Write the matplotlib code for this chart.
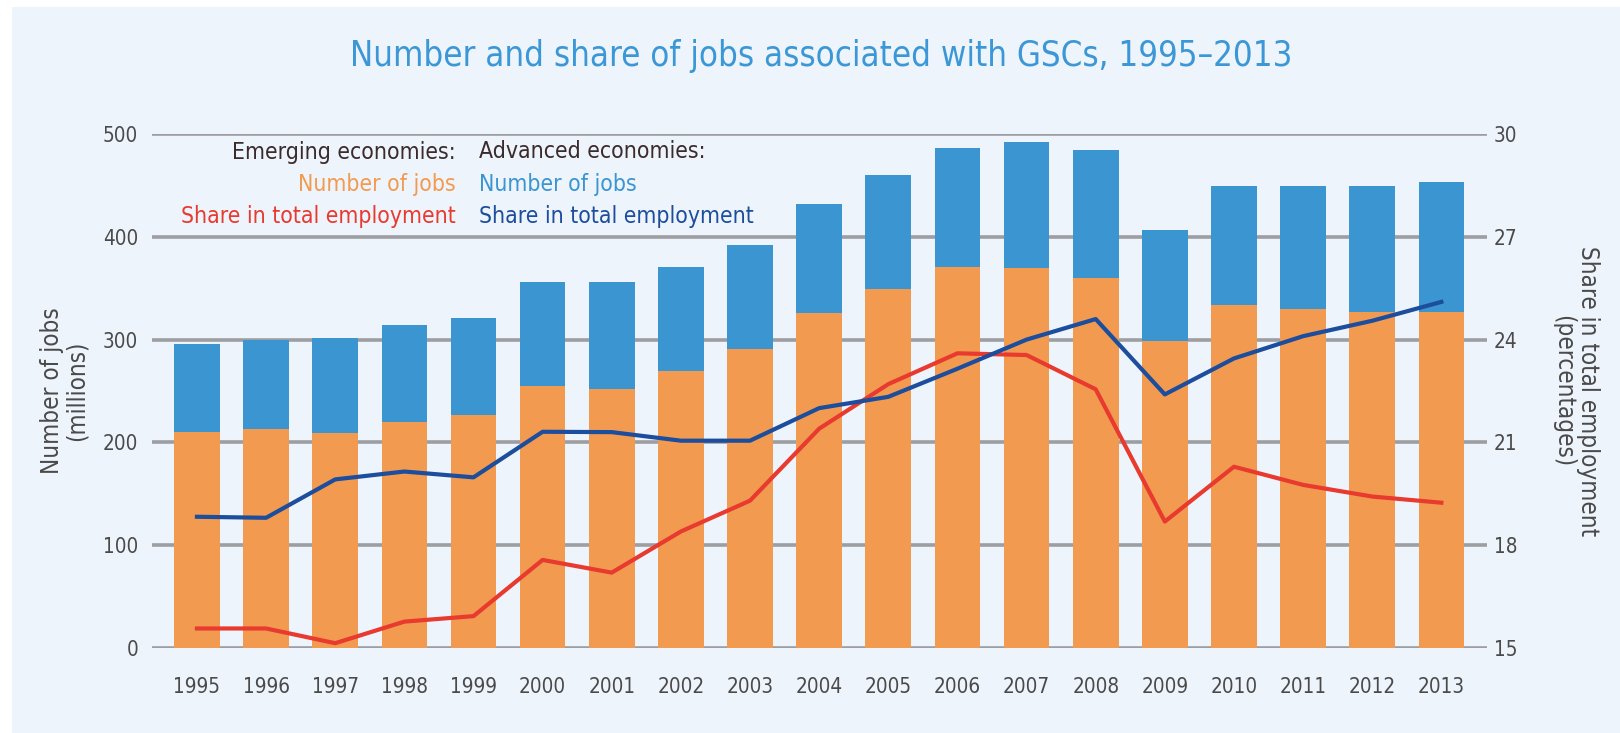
import numpy as np
import matplotlib
matplotlib.use('Agg')
import matplotlib.pyplot as plt
from matplotlib import font_manager as fm
from matplotlib.patches import Rectangle

years = [str(y) for y in range(1995, 2014)]

# number of jobs (millions)
emerging_jobs = [210, 213, 209, 220, 227, 255, 252, 269, 291, 326, 349, 371, 370, 360,
                 299, 334, 330, 327, 327]
total_jobs = [296, 300, 302, 314, 321, 356, 356, 371, 392, 432, 460, 486, 492, 484,
              407, 449, 449, 449, 453]
advanced_jobs = [t - e for t, e in zip(total_jobs, emerging_jobs)]

# share in total employment (%)
emerging_share = [15.57, 15.57, 15.14, 15.77, 15.93, 17.57, 17.2, 18.4, 19.3, 21.4,
                  22.7, 23.6, 23.55, 22.55, 18.69, 20.29, 19.76, 19.42, 19.24]
advanced_share = [18.83, 18.8, 19.92, 20.15, 19.98, 21.31, 21.3, 21.05, 21.05, 22.0,
                  22.33, 23.15, 24.0, 24.6, 22.4, 23.45, 24.1, 24.55, 25.1]

left_ticks = [0, 100, 200, 300, 400, 500]
right_ticks = [15, 18, 21, 24, 27, 30]

c_orange = '#f29b50'
c_blue = '#3a95d1'
c_red = '#e83a2f'
c_navy = '#1d4d9d'
c_grid = '#9d9ea2'
c_text = '#4a4a4a'
c_bg = '#eef4fc'

# look for a narrow / condensed face, otherwise DejaVu Sans
narrow = None
for f in fm.fontManager.ttflist:
    cond = (str(f.stretch) in ('condensed', 'semi-condensed', 'extra-condensed',
                                'ultra-condensed')
            or 'Narrow' in f.name or 'Condensed' in f.name)
    if cond and f.style == 'normal' and f.weight in (400, 'normal', 'regular'):
        narrow = f
        break
if narrow is not None:
    fp = fm.FontProperties(fname=narrow.fname)
else:
    fp = fm.FontProperties(family='DejaVu Sans')

W, H = 1620, 733
fig = plt.figure(figsize=(16.2, 7.33), dpi=100, facecolor='white')
renderer = fig.canvas.get_renderer()


def fit(txt, target, size0=20):
    # font size that makes txt about target pixels wide
    t = fig.text(0, 0, txt, fontproperties=fp, fontsize=size0)
    w = t.get_window_extent(renderer).width
    t.remove()
    return size0 * target / w


tick_fs = fit('1995', 47)
leg_fs = fit('Emerging economies:', 224)
title_fs = fit('Number and share of jobs associated with GSCs, 1995\u20132013', 941)
lab_fs = fit('Share in total employment', 290)

fig.patches.append(Rectangle((12 / W, 0), 1, 1 - 7 / H, transform=fig.transFigure,
                             facecolor=c_bg, edgecolor='none', zorder=-10))

ax = fig.add_axes([152 / W, 1 - 648 / H, (1487 - 152) / W, (648 - 134) / H])
ax.set_facecolor('none')
x = np.arange(len(years))

for t in left_ticks:
    ax.axhline(t, color=c_grid, lw=2.6, zorder=0)

ax.bar(x, emerging_jobs, width=0.66, color=c_orange, zorder=2)
ax.bar(x, advanced_jobs, bottom=emerging_jobs, width=0.66, color=c_blue, zorder=2)

ax.set_xlim(-0.65, len(years) - 1 + 0.66)
ax.set_ylim(0, 500)
ax.set_yticks(left_ticks)
ax.set_xticks(x)
ax.set_xticklabels(years)
ax.tick_params(axis='both', length=0, colors=c_text)
ax.tick_params(axis='x', pad=21)
ax.tick_params(axis='y', pad=10)
for lab in ax.get_xticklabels() + ax.get_yticklabels():
    lab.set_fontproperties(fp)
    lab.set_fontsize(tick_fs)
for s in ax.spines.values():
    s.set_visible(False)

ax2 = ax.twinx()
ax2.set_ylim(15, 30)
ax2.set_yticks(right_ticks)
ax2.plot(x, emerging_share, color=c_red, lw=3, zorder=5)
ax2.plot(x, advanced_share, color=c_navy, lw=3, zorder=5)
ax2.tick_params(axis='y', length=0, colors=c_text, pad=5)
for lab in ax2.get_yticklabels():
    lab.set_fontproperties(fp)
    lab.set_fontsize(tick_fs)
for s in ax2.spines.values():
    s.set_visible(False)

fig.text(0.507, 1 - 56 / H, 'Number and share of jobs associated with GSCs, 1995\u20132013',
         ha='center', va='center', fontproperties=fp, fontsize=title_fs, color='#3b97d6')

fig.text(64 / W, 1 - 391 / H, 'Number of jobs\n(millions)', rotation=90, ha='center',
         va='center', fontproperties=fp, fontsize=lab_fs, color=c_text,
         linespacing=1.05, multialignment='center')
fig.text(1576 / W, 1 - 391 / H, 'Share in total employment\n(percentages)', rotation=270,
         ha='center', va='center', fontproperties=fp, fontsize=lab_fs, color=c_text,
         linespacing=1.05, multialignment='center')

# legend-like labels
rows = [152, 185, 216]
left_col = [('Emerging economies:', '#3b2b2b'), ('Number of jobs', c_orange),
            ('Share in total employment', c_red)]
right_col = [('Advanced economies:', '#3b2b2b'), ('Number of jobs', c_blue),
             ('Share in total employment', c_navy)]
for yy, (txt, col) in zip(rows, left_col):
    fig.text(456 / W, 1 - yy / H, txt, ha='right', va='center', fontproperties=fp,
             fontsize=leg_fs, color=col)
for yy, (txt, col) in zip(rows, right_col):
    fig.text(479 / W, 1 - yy / H, txt, ha='left', va='center', fontproperties=fp,
             fontsize=leg_fs, color=col)

fig.savefig('out.png', dpi=100, facecolor=fig.get_facecolor())
